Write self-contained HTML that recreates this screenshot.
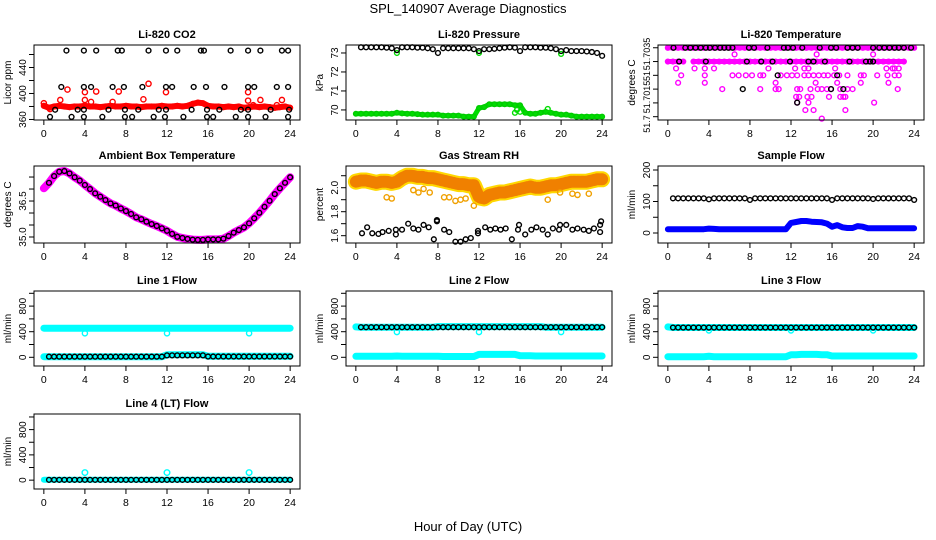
<!DOCTYPE html>
<html><head><meta charset="utf-8"><title>SPL_140907 Average Diagnostics</title>
<style>
html,body{margin:0;padding:0;background:#fff;}
svg{display:block;font-family:"Liberation Sans",Arial,sans-serif;}
</style></head>
<body>
<svg id="chart" width="936" height="540" viewBox="0 0 936 540" xmlns="http://www.w3.org/2000/svg">
<text x="468" y="13" text-anchor="middle" font-size="13">SPL_140907  Average Diagnostics</text>
<text x="468" y="531" text-anchor="middle" font-size="13">Hour of Day (UTC)</text>
</svg>
<script>
const hourGrid=[0,0.5,1,1.5,2,2.5,3,3.5,4,4.5,5,5.5,6,6.5,7,7.5,8,8.5,9,9.5,10,10.5,11,11.5,12,12.5,13,13.5,14,14.5,15,15.5,16,16.5,17,17.5,18,18.5,19,19.5,20,20.5,21,21.5,22,22.5,23,23.5,24];
const xTicks=[0,4,8,12,16,20,24];

// CO2
const co2Red=[381,378,380,381,380,379,380,380,381,380,380,379,380,381,380,380,381,380,380,379,380,380,380,381,380,380,381,380,381,384,386,385,381,380,380,379,380,379,380,378,379,380,379,380,379,378,379,380,378];
const co2RedOutHours=[0,0.6,1.6,2.3,4,4,4.6,5.1,6.7,7.3,9.7,10.2,11.9,19.9,19.9,20.4,21.1,22.7,23.2];
const co2RedOutValues=[385,376,390,406,402,390,387,403,387,403,391,415,402,402,389,382,390,382,390];
const co2BlackHours=[2.2,3.9,5.1,7.2,7.6,10.2,11.9,13,15.3,15.6,18.2,19.9,21.1,23.2,23.8,1.7,3.9,4.6,6.7,7.8,9.6,11.9,12.5,14.6,15.8,17.6,19.9,20.5,22.7,23.8,1.1,3.3,3.9,6.3,7.9,9.2,11.2,11.9,14.4,15.9,17.1,19.2,19.9,22.1,23.9,0.6,2.7,3.9,5.7,7.9,8.6,10.7,11.8,13.6,15.9,16.5,18.7,19.9,21.6,23.8];
const co2BlackValues=[466,466,466,466,466,466,466,466,466,466,466,466,466,466,466,410,410,410,410,410,410,410,410,410,410,410,410,410,410,410,375,375,375,375,375,375,375,375,375,375,375,375,375,375,375,364,364,364,364,364,364,364,364,364,364,364,364,364,364,364];

// Pressure
const pressBlack=[null,73.3,73.3,73.3,73.3,73.3,73.28,73.25,73.15,73.3,73.3,73.3,73.28,73.28,73.25,73.2,73.0,73.25,73.25,73.25,73.25,73.25,73.25,73.2,73.1,73.2,73.2,73.22,73.25,73.28,73.3,73.28,73.1,73.3,73.3,73.3,73.28,73.28,73.25,73.2,73.1,73.15,73.1,73.1,73.1,73.08,73.05,73.0,72.85];
const pressGreen=[69.8,69.8,69.8,69.8,69.8,69.8,69.8,69.8,69.85,69.82,69.8,69.8,69.78,69.75,69.75,69.75,69.75,69.7,69.7,69.7,69.7,69.65,69.65,69.65,70.1,70.15,70.3,70.3,70.3,70.3,70.3,70.25,70.25,69.85,69.8,69.8,69.85,69.9,69.85,69.8,69.75,69.75,69.7,69.65,69.65,69.65,69.65,69.65,69.65];
const pressGreenOutHours=[4,12,20,15.5,16,18.7,15.7];
const pressGreenOutValues=[73.0,73.0,72.95,69.85,69.9,70.05,70.0];

// Li-820 Temperature
const tempMagLevel0=[51.7035,51.7035,51.7035,51.7035,51.7035,51.7035,51.7035,51.7035,51.7035,51.7035,51.7035,51.7035,51.7035,51.7035,51.7035,51.7035,51.7035,51.7035,51.7035,51.7035,51.7035,51.7035,51.7035,51.7035,51.7035,51.7035,51.7035,51.7035,51.7035,51.7035,51.7035,51.7035,51.7035,51.7035,51.7035,51.7035,51.7035,51.7035,51.7035,51.7035,51.7035,51.7035,51.7035,51.7035,51.7035,51.7035,51.7035,51.7035,51.7035];
const tempMagLevel1=[51.703,51.703,51.703,51.703,null,51.703,51.703,51.703,51.703,51.703,51.703,51.703,51.703,51.703,51.703,51.703,51.703,51.703,51.703,51.703,51.703,51.703,51.703,51.703,51.703,51.703,51.703,51.703,51.703,51.703,51.703,51.703,51.703,51.703,51.703,51.703,51.703,51.703,51.703,51.703,51.703,51.703,51.703,51.703,51.703,51.703,51.703,null,null];
const tempMagHours=[0.8,2.6,3.6,4.5,9.8,12.4,13.3,13.7,16.3,21.3,21.9,22.1,22.5,1.3,3.6,6.3,6.9,7.6,8.2,9.0,9.3,11.0,11.6,12.1,12.6,13.3,13.7,14.2,14.7,15.2,15.6,16.2,16.7,17.5,18.8,19.1,20.4,21.4,22.1,22.5,1.0,3.6,10.5,14.4,16.5,18.8,21.5,5.3,9.0,10.5,10.8,12.6,12.9,13.9,14.6,15.0,15.5,15.9,16.8,17.5,18.0,22.4,12.5,12.8,13.6,14.0,15.7,16.8,17.1,17.3,12.6,13.7,20.1,13.4,14.2,17.3,15.0,6.5,14.5,20.0];
const tempMagValues=[51.70275,51.70275,51.70275,51.70275,51.70275,51.70275,51.70275,51.70275,51.70275,51.70275,51.70275,51.70275,51.70275,51.7025,51.7025,51.7025,51.7025,51.7025,51.7025,51.7025,51.7025,51.7025,51.7025,51.7025,51.7025,51.7025,51.7025,51.7025,51.7025,51.7025,51.7025,51.7025,51.7025,51.7025,51.7025,51.7025,51.7025,51.7025,51.7025,51.7025,51.70223,51.70223,51.70223,51.70223,51.70223,51.70223,51.70223,51.702,51.702,51.702,51.702,51.702,51.702,51.702,51.702,51.702,51.702,51.702,51.702,51.702,51.702,51.702,51.70172,51.70172,51.70172,51.70172,51.70172,51.70172,51.70172,51.70172,51.70151,51.70151,51.70151,51.70124,51.70124,51.70124,51.70093,51.70326,51.70326,51.70326];
const tempBlackHours=[0.55,1.7,2.2,2.7,3.2,3.7,4.1,4.6,5.1,5.5,5.9,6.3,7.9,8.4,9.7,11.3,11.7,12.2,13.1,14.8,15.9,16.4,17.5,18.0,18.5,20.0,20.6,21.1,21.6,22.1,22.5,23.0,23.7,1.1,3.7,7.7,9.1,10.2,11.9,13.7,14.2,15.3,17.7,19.3,19.7,20.0,10.7,16.5,7.3,15.9,17.1,12.6];
const tempBlackValues=[51.7035,51.7035,51.7035,51.7035,51.7035,51.7035,51.7035,51.7035,51.7035,51.7035,51.7035,51.7035,51.7035,51.7035,51.7035,51.7035,51.7035,51.7035,51.7035,51.7035,51.7035,51.7035,51.7035,51.7035,51.7035,51.7035,51.7035,51.7035,51.7035,51.7035,51.7035,51.7035,51.7035,51.703,51.703,51.703,51.703,51.703,51.703,51.703,51.703,51.703,51.703,51.703,51.703,51.703,51.7025,51.7025,51.702,51.702,51.702,51.70151];

// Ambient box temperature
const ambientTemp=[37.03,37.26,37.54,37.72,37.75,37.65,37.49,37.35,37.17,37.0,36.82,36.68,36.54,36.40,36.31,36.19,36.08,35.96,35.82,35.74,35.64,35.54,35.46,35.36,35.26,35.13,35.01,34.96,34.92,34.89,34.88,34.88,34.9,34.9,34.9,34.93,35.04,35.18,35.29,35.4,35.57,35.78,36.01,36.26,36.51,36.79,37.03,37.26,37.49];

// Gas stream RH
const rhOrange=[2.05,2.06,2.06,2.05,2.04,2.05,2.05,2.04,2.05,2.08,2.1,2.1,2.09,2.09,2.08,2.08,2.07,2.06,2.05,2.04,2.03,2.03,2.02,2.02,1.92,1.91,1.94,1.95,1.96,1.96,1.97,1.98,1.99,2.0,2.01,2.0,2.0,2.01,2.02,2.02,2.03,2.04,2.05,2.05,2.05,2.05,2.06,2.07,2.07];
const rhOrangeOutHours=[3,3.5,5.6,6.1,6.6,7.2,8.6,9.1,9.7,10.2,10.7,11.5,18.7,19.9,21.1,21.6,22.7];
const rhOrangeOutValues=[1.92,1.91,1.98,1.96,1.99,1.96,1.92,1.92,1.89,1.9,1.91,1.85,1.9,1.96,1.95,1.94,1.95];
const rhBlackHours=[0.6,1.1,1.6,2.2,2.6,3.2,3.9,3.9,4.5,5.1,5.6,6.1,6.6,7.1,7.9,7.9,7.6,8.6,9.1,9.7,10.2,10.7,11.2,11.9,11.9,12.6,13.1,13.6,14.1,14.6,15.2,15.8,15.9,16.5,17.1,17.6,18.2,18.7,19.2,19.8,19.9,20.5,21.1,21.6,22.2,22.7,23.2,23.8,23.8,23.9];
const rhBlackValues=[1.62,1.67,1.62,1.615,1.63,1.64,1.65,1.61,1.65,1.70,1.66,1.65,1.69,1.67,1.72,1.73,1.57,1.65,1.63,1.55,1.55,1.57,1.58,1.62,1.64,1.67,1.65,1.66,1.65,1.66,1.57,1.65,1.69,1.61,1.65,1.67,1.65,1.61,1.66,1.65,1.69,1.69,1.65,1.66,1.65,1.64,1.66,1.63,1.69,1.72];

// Sample flow
const sampleBlack=[null,110,110,110,110,110,110,110,107,110,110,110,110,110,110,110,105,110,110,110,110,110,110,110,110,110,110,110,110,110,110,110,105,110,110,110,110,110,110,110,108,110,110,110,110,110,110,110,105];
const sampleBlue=[12,12,12,12,12,12,12,12,14,13,12,12,12,12,12,12,12,12,12,12,12,12,12,12,32,35,38,38,36,35,34,30,20,25,18,16,16,22,20,15,15,15,15,15,15,15,15,15,15];

// Line 1 flow
const line1CyanHigh=[455,455,455,455,455,455,455,455,455,455,455,455,455,455,455,455,455,455,455,455,455,455,455,455,455,455,455,455,455,455,455,455,455,455,455,455,455,455,455,455,455,455,455,455,455,455,455,455,455];
const line1CyanLow=[10,10,10,10,10,10,10,10,10,10,10,10,10,10,10,10,10,10,10,10,10,10,10,10,40,40,40,40,40,40,40,40,15,15,15,15,15,15,15,15,15,15,15,15,15,15,15,15,15];
const line1Black=[null,10,10,10,10,10,10,10,10,10,10,10,10,10,10,10,10,10,10,10,10,10,10,10,30,30,30,30,30,30,30,30,12,12,12,12,12,12,12,12,12,12,12,12,12,12,12,12,12];
const line1OutHours=[4,12,20];
const line1OutValues=[375,375,375];

// Line 2 flow
const line2CyanHigh=[475,470,470,470,470,470,470,470,470,470,470,470,470,470,470,470,480,480,480,480,480,480,480,480,480,480,480,480,480,480,480,480,480,480,480,480,480,470,470,470,470,470,470,470,470,470,470,470,470];
const line2Black=[null,470,470,470,470,470,470,470,470,470,470,470,470,470,470,470,470,470,470,470,470,470,470,470,470,470,470,470,470,470,470,470,470,470,470,470,470,470,470,470,470,470,470,470,470,470,470,470,470];
const line2CyanLow=[15,15,15,15,15,15,15,15,20,15,15,15,15,15,15,15,15,12,12,12,12,12,12,12,45,45,45,45,45,45,45,45,25,25,25,20,20,20,20,20,20,20,20,20,20,20,20,20,20];
const line2OutHours=[4,12,20];
const line2OutValues=[395,395,395];

// Line 3 flow
const line3CyanHigh=[475,465,465,465,465,465,465,465,465,465,465,465,465,465,465,465,465,465,465,465,465,465,465,465,465,465,465,465,465,465,465,465,465,465,465,465,465,465,465,465,465,465,465,465,465,465,465,465,465];
const line3Black=[null,465,465,465,465,465,465,465,465,465,465,465,465,465,465,465,465,465,465,465,465,465,465,465,465,465,465,465,465,465,465,465,465,465,465,465,465,465,465,465,465,465,465,465,465,465,465,465,465];
const line3CyanLow=[10,10,10,10,10,10,10,10,15,10,10,10,10,10,10,10,10,10,10,10,10,10,10,10,40,40,45,45,45,45,40,40,20,20,20,20,20,20,20,20,20,20,20,20,20,20,20,20,20];
const line3OutHours=[4,12,20];
const line3OutValues=[420,420,420];

// Line 4 flow
const line4Cyan=[5,5,5,5,5,5,5,5,5,5,5,5,5,5,5,5,5,5,5,5,5,5,5,5,5,5,5,5,5,5,5,5,5,5,5,5,5,5,5,5,5,5,5,5,5,5,5,5,5];
const line4Black=[null,5,5,5,5,5,5,5,5,5,5,5,5,5,5,5,5,5,5,5,5,5,5,5,5,5,5,5,5,5,5,5,5,5,5,5,5,5,5,5,5,5,5,5,5,5,5,5,5];
const line4OutHours=[4,12,20];
const line4OutValues=[120,120,120];

const NS="http://www.w3.org/2000/svg";
const svg=document.getElementById('chart');
function mk(tag,attrs,parent){const e=document.createElementNS(NS,tag);for(const k in attrs)e.setAttribute(k,attrs[k]);(parent||svg).appendChild(e);return e;}

const colLeft=[34,346,658], rowTop=[45,166,291,414], rowBot=[120,243,366,489];
function makePanel(name,title,ytitle,col,row,ymin,ymax,ticks,labels,labelSize){
  const L=colLeft[col],R=L+266,T=rowTop[row],B=rowBot[row];
  const g=mk('g',{});
  
  
  const p={g,L,R,T,B,
    x:h=>L+(h+0.96)/25.92*266,
    y:v=>B-(v-ymin)/(ymax-ymin)*(B-T)};
  const marks=mk('g',{},g);
  
  
  p.marks=marks;
  const t=mk('text',{x:(L+R)/2,y:T-7,'text-anchor':'middle','font-size':11,'font-weight':'bold'},g);
  
  
  t.textContent=title;
  const yt=mk('text',{transform:`translate(${L-23},${(T+B)/2}) rotate(-90)`,'text-anchor':'middle','font-size':10},g);
  
  
  yt.textContent=ytitle;
  xTicks.forEach(h=>{
    const xx=p.x(h);
    const tk=mk('line',{x1:xx,x2:xx,y1:B,y2:B+5,stroke:'#000','stroke-width':1},g);
    
    
    const tl=mk('text',{x:xx,y:B+17,'text-anchor':'middle','font-size':10.5},g);
    
    
    tl.textContent=h;
  });
  ticks.forEach(v=>{
    const yy=p.y(v);
    const tk=mk('line',{x1:L-5,x2:L,y1:yy,y2:yy,stroke:'#000','stroke-width':1},g);
    
    
  });
  labels.forEach(lb=>{
    const yy=lb[2]!==undefined?lb[2]:p.y(lb[0]);
    const tl=mk('text',{transform:`translate(${L-8},${yy}) rotate(-90)`,'text-anchor':'middle','font-size':labelSize||10},g);
    
    
    tl.textContent=lb[1];
  });
  return p;
}
function finish(p){
  const r=mk('rect',{x:p.L,y:p.T,width:p.R-p.L,height:p.B-p.T,fill:'none',stroke:'#000','stroke-width':1},p.g);
  
  
}
function pts(p,hours,vals,color,r,name){
  hours.forEach((h,i)=>{
    const v=vals[i]; if(v===null||v===undefined)return;
    const c=mk('circle',{cx:p.x(h),cy:p.y(v),r:r||2.4,fill:'none',stroke:color,'stroke-width':1.4},p.marks);
    
    
  });
}
function band(p,hours,vals,color,w,name,dash){
  let d='',pen=false;
  hours.forEach((h,i)=>{const v=vals[i]; if(v===null){pen=false;return;} d+=(pen?'L':'M')+p.x(h).toFixed(1)+' '+p.y(v).toFixed(1)+' '; pen=true;});
  const at={d,fill:'none',stroke:color,'stroke-width':w,'stroke-linecap':'round','stroke-linejoin':'round'};
  if(dash)at['stroke-dasharray']=dash;
  const pa=mk('path',at,p.marks);
  
  
}

// Panel 1 CO2
let p=makePanel('co2-panel','Li-820 CO2','Licor ppm',0,0,359.2,474.6,[360,380,400,420,440,460],[[360,'360'],[400,'400'],[440,'440']]);
band(p,hourGrid,co2Red,'#ff0000',6,'co2-red-band');
pts(p,hourGrid,co2Red,'#ff0000',2.4,'co2-red-point');
pts(p,co2RedOutHours,co2RedOutValues,'#ff0000',2.6,'co2-red-outlier');
pts(p,co2BlackHours,co2BlackValues,'#000',2.4,'co2-black-point');
finish(p);

// Panel 2 Pressure
p=makePanel('pressure-panel','Li-820 Pressure','kPa',1,0,69.47,73.42,[70,71,72,73],[[70,'70'],[71,'71'],[72,'72'],[73,'73']]);
band(p,hourGrid,pressGreen,'#00dd00',5,'pressure-green-band');
pts(p,hourGrid,pressGreen,'#00cc00',2.3,'pressure-green-point');
pts(p,pressGreenOutHours,pressGreenOutValues,'#00dd00',2.4,'pressure-green-outlier');
pts(p,hourGrid,pressBlack,'#000',2.4,'pressure-black-point');
finish(p);

// Panel 3 Temperature
p=makePanel('li820-temp-panel','Li-820 Temperature','degrees C',2,0,51.70088,51.70360,[51.7035,51.703,51.7025,51.702,51.7015,51.701],[[0,'51.7035',54],[0,'51',76],[0,'51.7015',97],[0,'51.7',124]],9);
band(p,hourGrid,tempMagLevel0,'#ff00ff',5,'temp-magenta-band-top');
band(p,hourGrid,tempMagLevel1,'#ff00ff',5,'temp-magenta-band-second');
pts(p,hourGrid,tempMagLevel0,'#ff00ff',2.4,'temp-magenta-point');
pts(p,hourGrid,tempMagLevel1,'#ff00ff',2.4,'temp-magenta-point');
pts(p,tempMagHours,tempMagValues,'#ff00ff',2.4,'temp-magenta-point');
pts(p,tempBlackHours,tempBlackValues,'#000',2.4,'temp-black-point');
finish(p);

// Panel 4 Ambient
p=makePanel('ambient-temp-panel','Ambient Box Temperature','degrees C',0,1,34.75,37.96,[35,35.5,36,36.5,37,37.5],[[35,'35.0'],[36.5,'36.5']]);
band(p,hourGrid,ambientTemp,'#ff00ff',8,'ambient-magenta-band');
pts(p,hourGrid.slice(1),ambientTemp.slice(1),'#000',2.4,'ambient-black-point');
finish(p);

// Panel 5 RH
p=makePanel('rh-panel','Gas Stream RH','percent',1,1,1.539,2.181,[1.6,1.7,1.8,1.9,2.0,2.1],[[1.6,'1.6'],[1.8,'1.8'],[2.0,'2.0']]);
band(p,hourGrid,rhOrange,'#ffd800',16,'rh-yellow-band');
band(p,hourGrid,rhOrange,'#f08000',12,'rh-orange-hatch','2 2');
pts(p,rhOrangeOutHours,rhOrangeOutValues,'#f0a000',2.6,'rh-orange-outlier');
pts(p,rhBlackHours,rhBlackValues,'#000',2.4,'rh-black-point');
finish(p);

// Panel 6 Sample flow
p=makePanel('sample-flow-panel','Sample Flow','ml/min',2,1,-31.7,212.7,[0,50,100,150,200],[[0,'0'],[100,'100'],[200,'200']]);
band(p,hourGrid,sampleBlue,'#0000ff',6,'sample-blue-band');
pts(p,hourGrid,sampleBlack,'#000',2.4,'sample-black-point');
finish(p);

const flowTicks=[0,200,400,600,800,1000], flowLabels=[[0,'0'],[400,'400'],[800,'800']];
// Line 1
p=makePanel('line1-flow-panel','Line 1 Flow','ml/min',0,2,-136,1036,flowTicks,flowLabels);
band(p,hourGrid,line1CyanHigh,'#00ffff',7,'line1-cyan-high');
band(p,hourGrid,line1CyanLow,'#00ffff',7,'line1-cyan-low');
pts(p,line1OutHours,line1OutValues,'#00ffff',2.6,'line1-cyan-outlier');
pts(p,hourGrid,line1Black,'#000',2.4,'line1-black-point');
finish(p);
// Line 2
p=makePanel('line2-flow-panel','Line 2 Flow','ml/min',1,2,-136,1036,flowTicks,flowLabels);
band(p,hourGrid,line2CyanHigh,'#00ffff',7,'line2-cyan-high');
band(p,hourGrid,line2CyanLow,'#00ffff',7,'line2-cyan-low');
pts(p,line2OutHours,line2OutValues,'#00ffff',2.6,'line2-cyan-outlier');
pts(p,hourGrid,line2Black,'#000',2.4,'line2-black-point');
finish(p);
// Line 3
p=makePanel('line3-flow-panel','Line 3 Flow','ml/min',2,2,-136,1036,flowTicks,flowLabels);
band(p,hourGrid,line3CyanHigh,'#00ffff',7,'line3-cyan-high');
band(p,hourGrid,line3CyanLow,'#00ffff',7,'line3-cyan-low');
pts(p,line3OutHours,line3OutValues,'#00ffff',2.6,'line3-cyan-outlier');
pts(p,hourGrid,line3Black,'#000',2.4,'line3-black-point');
finish(p);
// Line 4
p=makePanel('line4-flow-panel','Line 4 (LT) Flow','ml/min',0,3,-140,1047,flowTicks,flowLabels);
band(p,hourGrid,line4Cyan,'#00ffff',6,'line4-cyan-band');
pts(p,line4OutHours,line4OutValues,'#00ffff',2.8,'line4-cyan-outlier');
pts(p,hourGrid,line4Black,'#000',2.4,'line4-black-point');
finish(p);
</script>
</body></html>
